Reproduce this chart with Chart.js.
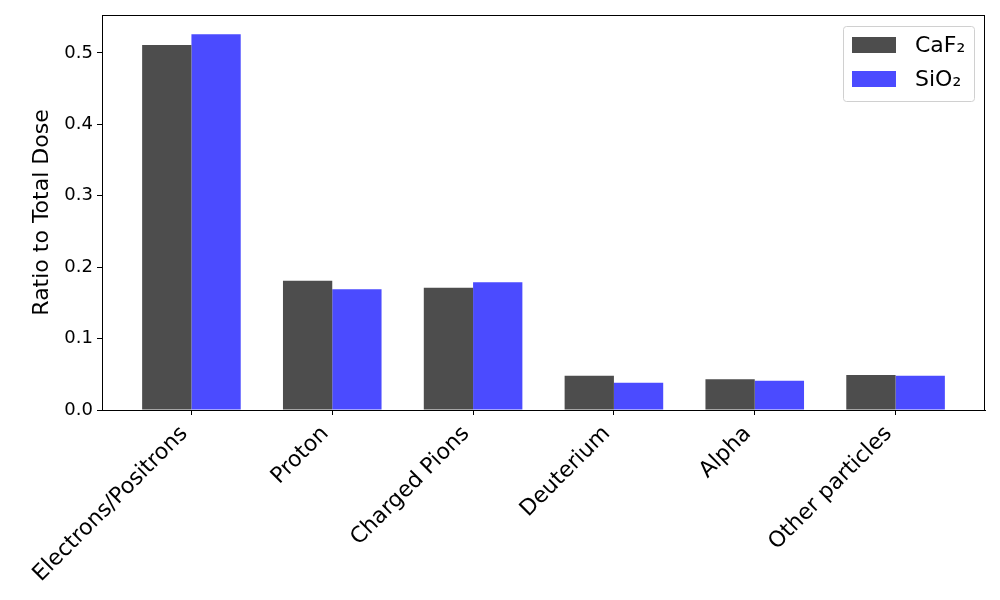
<!DOCTYPE html>
<html>
<head>
<meta charset="utf-8">
<script src="https://cdn.jsdelivr.net/npm/chart.js@4"></script>
<style>
  html, body { margin: 0; padding: 0; background: #fff; }
  #wrap { width: 1000px; height: 600px; }
</style>
</head>
<body>
<div id="wrap"><canvas id="myChart" width="1000" height="600"></canvas></div>
<script>
const categories = ['Electrons/Positrons', 'Proton', 'Charged Pions', 'Deuterium', 'Alpha', 'Other particles'];
const caf2 = [0.511, 0.181, 0.171, 0.048, 0.043, 0.049];
const sio2 = [0.526, 0.169, 0.179, 0.038, 0.041, 0.048];
const yTicks = [0.0, 0.1, 0.2, 0.3, 0.4, 0.5];

const FONT = "'DejaVu Sans', sans-serif";

// matplotlib-style legend box inside the plot, plus the full frame
const framePlugin = {
  id: 'frame',
  afterDraw(chart) {
    const { ctx, chartArea: a } = chart;
    ctx.save();
    ctx.strokeStyle = '#000';
    ctx.lineWidth = 1;
    ctx.strokeRect(a.left + 0.5, a.top + 0.5, a.right - a.left - 1, a.bottom - a.top);

    const bx = a.right - 142, by = a.top + 11, bw = 131, bh = 75;
    ctx.fillStyle = 'rgba(255,255,255,0.8)';
    ctx.strokeStyle = '#d0d0d0';
    ctx.beginPath();
    ctx.roundRect(bx + 0.5, by + 0.5, bw, bh, 3);
    ctx.fill();
    ctx.stroke();
    ctx.font = '22px ' + FONT;
    ctx.textBaseline = 'middle';
    chart.data.datasets.forEach((ds, i) => {
      const y = by + 19 + i * 34;
      ctx.fillStyle = ds.backgroundColor;
      ctx.fillRect(bx + 9, y - 8, 44, 16);
      ctx.fillStyle = '#000';
      ctx.fillText(ds.label, bx + 72, y + 1);
    });
    ctx.restore();
  }
};

const ctx = document.getElementById('myChart').getContext('2d');
const myChart = new Chart(ctx, {
  type: 'bar',
  data: {
    datasets: [{
      label: 'CaF₂',
      data: caf2.map((v, i) => ({ x: i, y: v })),
      backgroundColor: '#4d4d4d',
      borderWidth: 0
    }, {
      label: 'SiO₂',
      data: sio2.map((v, i) => ({ x: i, y: v })),
      backgroundColor: '#4b4bff',
      borderWidth: 0
    }]
  },
  options: {
    responsive: false,
    animation: false,
    categoryPercentage: 0.7,
    barPercentage: 1.0,
    layout: { padding: { left: 0, right: 15, top: 15, bottom: 0 } },
    plugins: {
      legend: { display: false },
      tooltip: { enabled: false }
    },
    scales: {
      x: {
        type: 'linear',
        min: -0.635,
        max: 5.635,
        offset: false,
        afterBuildTicks: axis => { axis.ticks = categories.map((c, i) => ({ value: i })); },
        afterFit: axis => { axis.height = 190; },
        grid: { offset: false, drawOnChartArea: false, drawTicks: true, tickLength: 5, color: '#000' },
        border: { display: true, color: '#000' },
        ticks: {
          color: '#000',
          font: { family: FONT, size: 22 },
          maxRotation: 45,
          minRotation: 45,
          padding: 6,
          labelOffset: -7,
          autoSkip: false,
          callback: v => categories[v]
        }
      },
      y: {
        min: 0,
        max: 0.553,
        afterBuildTicks: axis => { axis.ticks = yTicks.map(v => ({ value: v })); },
        afterFit: axis => { axis.width = 102; },
        grid: { drawOnChartArea: false, drawTicks: true, tickLength: 5, color: '#000' },
        border: { display: true, color: '#000' },
        title: {
          display: true,
          text: 'Ratio to Total Dose',
          color: '#000',
          font: { family: FONT, size: 22 },
          padding: { top: 29, bottom: 0 }
        },
        ticks: {
          color: '#000',
          font: { family: FONT, size: 18 },
          padding: 4,
          callback: v => v.toFixed(1)
        }
      }
    }
  },
  plugins: [framePlugin]
});
</script>
</body>
</html>
